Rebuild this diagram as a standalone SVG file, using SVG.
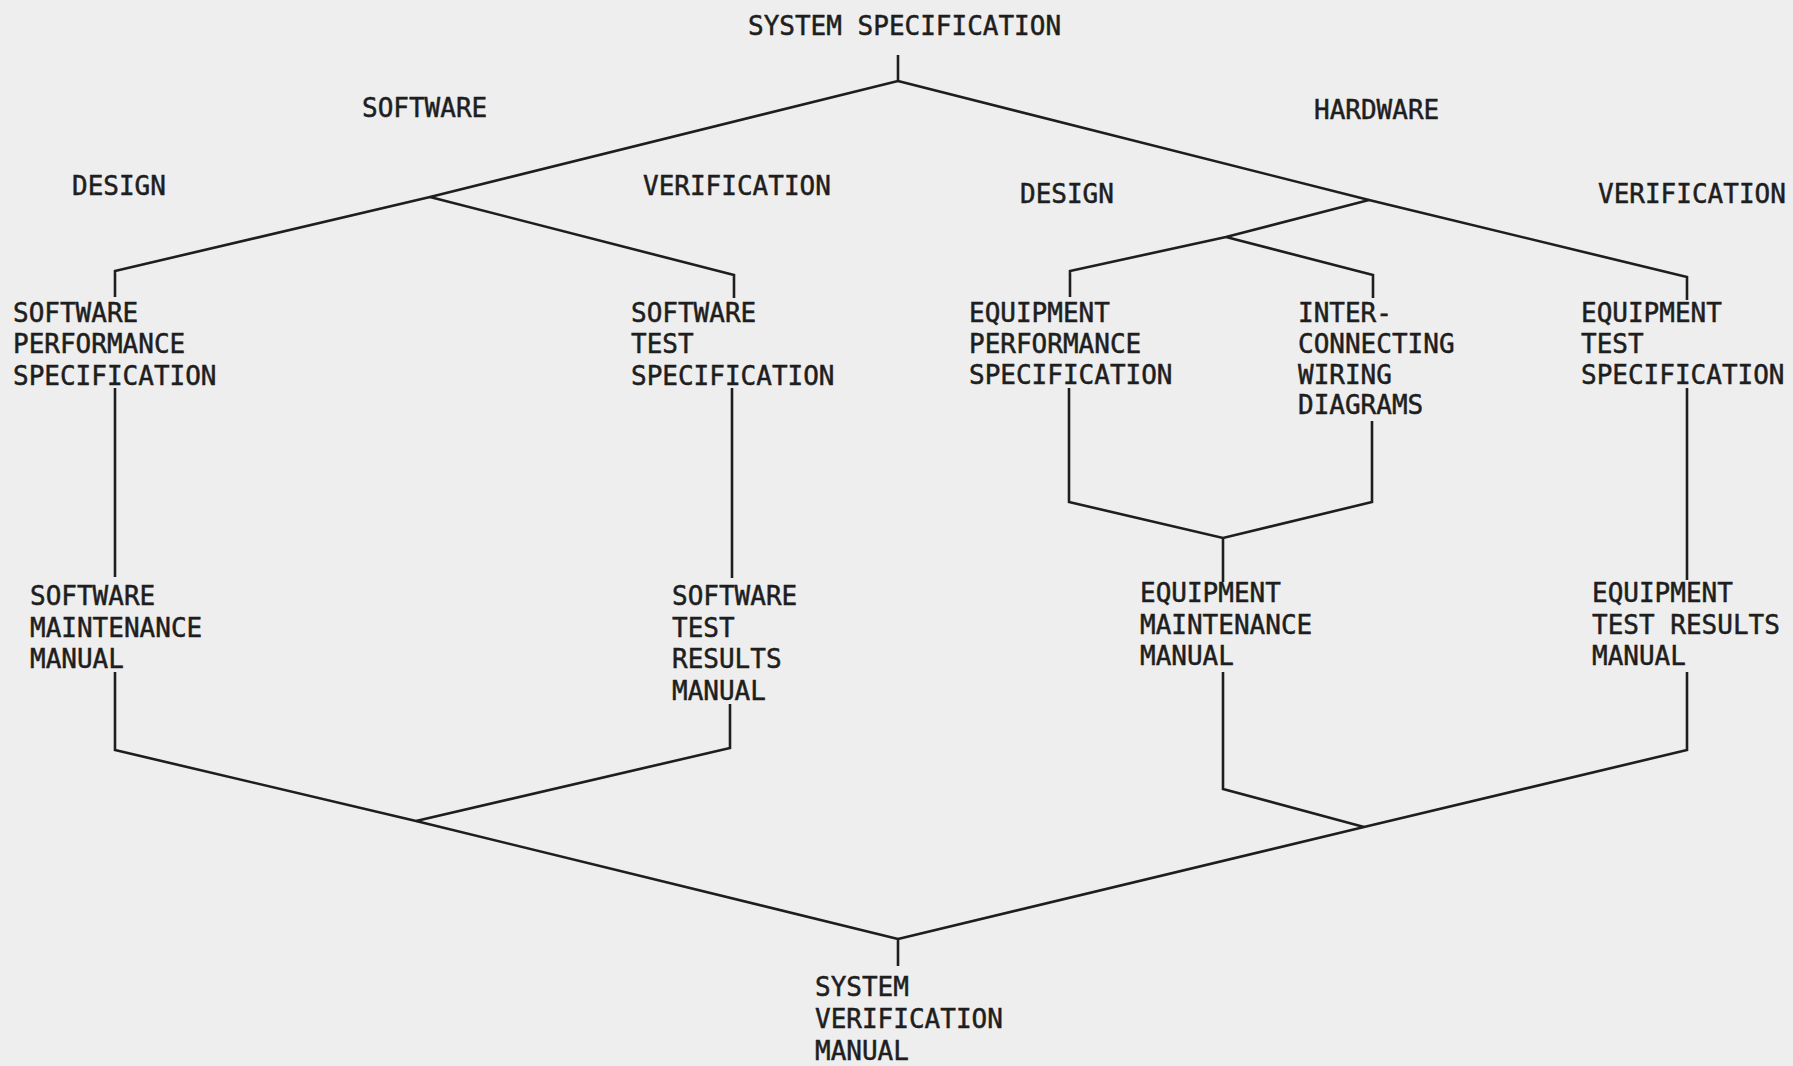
<svg xmlns="http://www.w3.org/2000/svg" width="1793" height="1066" viewBox="0 0 1793 1066">
<style>
text{font-family:"DejaVu Sans Mono","Liberation Mono",monospace;font-size:26px;fill:#1e1e1e;stroke:#1e1e1e;stroke-width:0.5}
.c{fill:none;stroke:#1e1e1e;stroke-width:2.6;stroke-linejoin:miter;stroke-linecap:butt}
</style>
<rect width="1793" height="1066" fill="#eeeeee"/>
<g id="connectors" class="c">
<path d="M898,55 V81 L430,197 L115,271 V297"/>
<path d="M898,81 L1369,200 L1687,277 V300"/>
<path d="M430,197 L734,275 V298"/>
<path d="M1369,200 L1226,237 L1070,271 V297"/>
<path d="M1226,237 L1373,275 V298"/>
<path d="M115,388 V577"/>
<path d="M732,388 V578"/>
<path d="M1069,388 V502 L1223,538 L1372,502 V421"/>
<path d="M1223,538 V582"/>
<path d="M1687,388 V580"/>
<path d="M115,672 V750 L416,821 L898,939 V966"/>
<path d="M730,704 V748 L416,821"/>
<path d="M1223,672 V789 L1364,827"/>
<path d="M1687,672 V750 L1364,827 L898,939"/>
</g>
<g id="system-specification"><text x="748" y="35">SYSTEM SPECIFICATION</text></g>
<g id="software"><text x="362" y="117">SOFTWARE</text></g>
<g id="hardware"><text x="1314" y="119">HARDWARE</text></g>
<g id="sw-design"><text x="72" y="195">DESIGN</text></g>
<g id="sw-verification"><text x="643" y="195">VERIFICATION</text></g>
<g id="hw-design"><text x="1020" y="203">DESIGN</text></g>
<g id="hw-verification"><text x="1598" y="203">VERIFICATION</text></g>
<g id="software-performance-specification"><text x="13" y="322">SOFTWARE</text><text x="13" y="353">PERFORMANCE</text><text x="13" y="385">SPECIFICATION</text></g>
<g id="software-test-specification"><text x="631" y="322">SOFTWARE</text><text x="631" y="353">TEST</text><text x="631" y="385">SPECIFICATION</text></g>
<g id="equipment-performance-specification"><text x="969" y="322">EQUIPMENT</text><text x="969" y="353">PERFORMANCE</text><text x="969" y="384">SPECIFICATION</text></g>
<g id="interconnecting-wiring-diagrams"><text x="1298" y="322">INTER-</text><text x="1298" y="353">CONNECTING</text><text x="1298" y="384">WIRING</text><text x="1298" y="414">DIAGRAMS</text></g>
<g id="equipment-test-specification"><text x="1581" y="322">EQUIPMENT</text><text x="1581" y="353">TEST</text><text x="1581" y="384">SPECIFICATION</text></g>
<g id="software-maintenance-manual"><text x="30" y="605">SOFTWARE</text><text x="30" y="637">MAINTENANCE</text><text x="30" y="668">MANUAL</text></g>
<g id="software-test-results-manual"><text x="672" y="605">SOFTWARE</text><text x="672" y="637">TEST</text><text x="672" y="668">RESULTS</text><text x="672" y="700">MANUAL</text></g>
<g id="equipment-maintenance-manual"><text x="1140" y="602">EQUIPMENT</text><text x="1140" y="634">MAINTENANCE</text><text x="1140" y="665">MANUAL</text></g>
<g id="equipment-test-results-manual"><text x="1592" y="602">EQUIPMENT</text><text x="1592" y="634">TEST RESULTS</text><text x="1592" y="665">MANUAL</text></g>
<g id="system-verification-manual"><text x="815" y="996">SYSTEM</text><text x="815" y="1028">VERIFICATION</text><text x="815" y="1060">MANUAL</text></g>
</svg>
